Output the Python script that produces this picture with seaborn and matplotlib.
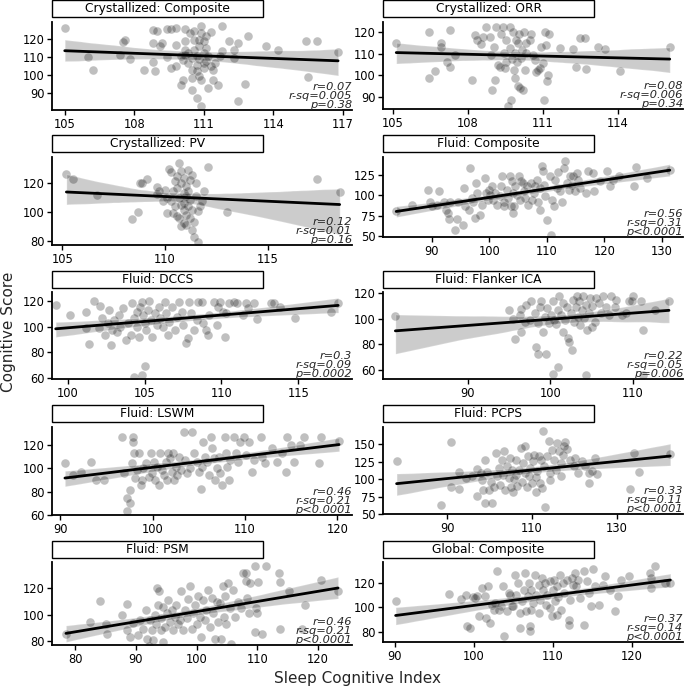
import matplotlib
matplotlib.use("Agg")
import matplotlib.pyplot as plt
import seaborn as sns
import pandas as pd
from matplotlib.patches import Rectangle
from matplotlib.collections import PolyCollection

sns.set_style("ticks")
plt.rcParams['font.family'] = ['DejaVu Sans']

titles = ["Crystallized: Composite", "Crystallized: ORR", "Crystallized: PV",
          "Fluid: Composite", "Fluid: DCCS", "Fluid: Flanker ICA",
          "Fluid: LSWM", "Fluid: PCPS", "Fluid: PSM", "Global: Composite"]

r_vals = ["0.07", "0.08", "0.12", "0.56", "0.3", "0.22", "0.46", "0.33", "0.46", "0.37"]
rsq_vals = ["0.005", "0.006", "0.01", "0.31", "0.09", "0.05", "0.21", "0.11", "0.21", "0.14"]
p_vals = ["=0.38", "=0.34", "=0.16", "<0.0001", "=0.0002", "=0.006", "<0.0001", "<0.0001", "<0.0001", "<0.0001"]

x_ticks = [[105, 108, 111, 114, 117], [105, 108, 111, 114], [105, 110, 115],
           [90, 100, 110, 120, 130], [100, 105, 110, 115], [90, 100, 110],
           [90, 100, 110, 120], [90, 110, 130], [80, 90, 100, 110, 120], [90, 100, 110, 120]]
y_ticks = [[90, 100, 110, 120], [90, 100, 110, 120], [80, 100, 120],
           [50, 75, 100, 125], [60, 80, 100, 120], [60, 80, 100, 120],
           [60, 80, 100, 120], [50, 75, 100, 125, 150], [80, 100, 120], [80, 100, 120]]

cryst_comp = [(105.0,125.9),(106.0,110.0),(106.2,103.0),(107.4,111.3),(107.5,118.1),(107.6,119.3),
    (107.8,108.9),(108.4,103.0),(108.8,107.0),(108.8,124.8),(108.9,102.0),(108.8,117.8),(109.0,124.3),
    (109.2,117.8),(109.1,116.0),(109.4,125.6),(109.6,125.6),(109.8,125.9),(109.4,110.0),(109.6,103.9),
    (109.8,105.2),(109.8,116.9),(110.1,97.4),(110.0,94.6),(110.2,125.6),(110.2,118.7),(110.3,112.2),
    (110.3,106.7),(110.4,123.3),(110.5,98.3),(110.5,91.9),(110.6,124.3),(110.6,119.6),(110.6,114.1),
    (110.7,110.4),(110.7,105.7),(110.7,87.2),(110.8,116.0),(110.8,108.9),(110.9,127.0),(110.9,123.3),
    (110.9,97.4),(110.9,82.6),(111.0,112.2),(111.0,103.9),(111.0,118.7),(111.1,107.6),(111.1,115.0),
    (111.2,92.8),(111.2,110.4),(111.3,123.9),(111.4,103.0),(111.4,97.4),(111.5,106.7),(111.6,94.6),
    (111.7,110.7),(111.8,113.1),(111.8,127.0),(112.1,118.7),(112.3,113.7),(112.3,109.4),(112.5,117.8),
    (112.5,85.4),(112.8,95.0),(112.9,121.9),(113.7,116.0),(114.2,114.1),(115.4,118.7),(115.5,98.9),
    (115.9,118.7),(116.8,112.6),(110.2,111.3),(110.5,103.0),(110.8,119.6),(110.7,102.0),(110.0,110.4),
    (110.1,108.5),(110.5,109.4),(111.1,121.5),(111.3,104.8),(111.0,106.7),(110.8,99.3),(110.2,114.1)]

cryst_orr = [(105.13,115.1),(106.44,120.0),(106.44,99.0),(106.67,102.0),(106.93,115.1),(106.93,113.2),
    (107.16,106.1),(107.27,104.0),(107.27,121.1),(107.47,109.2),(108.17,97.9),(108.27,118.5),(108.35,116.2),
    (108.53,114.4),(108.6,117.7),(108.73,122.3),(108.87,117.7),(108.93,109.3),(108.97,93.4),(109.03,113.2),
    (109.07,97.9),(109.13,122.3),(109.2,104.8),(109.27,104.0),(109.33,119.2),(109.4,122.3),(109.44,110.1),
    (109.47,103.3),(109.51,106.3),(109.53,116.2),(109.6,85.8),(109.67,122.3),(109.69,112.4),(109.73,88.8),
    (109.77,107.4),(109.8,120.0),(109.83,102.5),(109.87,98.7),(109.89,110.1),(109.93,116.2),(109.96,106.3),
    (110.0,114.7),(110.0,94.9),(110.04,119.2),(110.07,94.1),(110.13,107.9),(110.17,111.6),(110.2,93.1),
    (110.23,120.0),(110.27,102.5),(110.31,114.7),(110.33,110.1),(110.47,116.2),(110.53,119.2),(110.6,109.3),
    (110.67,107.1),(110.73,101.7),(110.8,102.5),(110.87,103.3),(110.93,113.2),(111.0,105.5),(111.03,88.8),
    (111.07,120.0),(111.13,113.9),(111.16,97.2),(111.2,100.2),(111.24,119.2),(111.67,112.4),(112.2,112.0),
    (112.33,104.0),(112.47,117.4),(112.67,117.0),(112.71,103.0),(113.2,113.2),(113.47,112.0),(114.07,102.0),
    (116.07,113.2)]

cryst_pv = [(105.2,126.2),(105.5,122.8),(106.7,111.9),(108.4,95.1),(108.7,100.0),(108.8,120.0),(108.9,120.0),
    (109.1,122.8),(109.6,117.2),(109.7,114.2),(109.6,112.6),(109.9,107.3),(110.0,114.9),(110.1,99.3),
    (110.1,109.6),(110.2,129.7),(110.3,107.3),(110.3,127.4),(110.4,114.2),(110.4,99.3),(110.5,121.2),
    (110.5,103.8),(110.6,124.6),(110.6,116.5),(110.7,133.9),(110.7,109.6),(110.7,95.8),(110.8,128.1),
    (110.8,90.0),(110.8,120.0),(110.9,113.1),(110.9,101.6),(110.9,106.1),(110.9,123.5),(110.9,92.3),
    (111.0,117.7),(111.0,110.8),(111.0,98.1),(111.1,129.2),(111.1,103.8),(111.1,114.2),(111.2,122.3),
    (111.2,108.5),(111.3,101.6),(111.3,125.8),(111.3,87.7),(111.4,93.4),(111.4,83.0),(111.5,120.0),
    (111.5,110.8),(111.6,79.6),(111.6,100.4),(111.7,103.8),(111.8,107.3),(111.9,114.7),(112.1,131.1),
    (113.0,100.0),(117.4,122.8),(118.5,113.8),(110.6,97.0),(111.0,91.0),(110.8,105.0),(111.2,96.0)]

fluid_comp = [(83.8,81.3),(86.5,88.3),(89.4,106.9),(89.6,91.2),(90.0,86.3),(91.2,104.8),(90.9,88.3),
    (92.1,92.4),(92.5,82.1),(92.8,78.0),(92.9,70.6),(93.2,92.4),(94.1,57.4),(94.3,70.6),(94.6,92.4),
    (95.4,63.6),(95.6,108.9),(95.8,87.1),(96.4,82.1),(96.6,133.7),(97.0,96.6),(97.2,92.4),(97.5,71.8),
    (97.7,115.1),(97.9,102.8),(98.4,76.0),(98.7,88.3),(99.3,121.3),(99.4,102.8),(99.7,93.7),(99.9,106.9),
    (100.1,100.7),(100.4,111.0),(100.7,94.5),(101.0,102.8),(101.3,88.3),(101.9,98.6),(102.0,111.0),
    (102.2,123.4),(102.5,92.4),(102.6,86.3),(103.0,106.9),(103.3,96.6),(103.6,123.4),(103.7,86.3),
    (103.9,117.2),(104.1,78.0),(104.2,102.8),(104.3,86.3),(104.5,111.0),(104.8,100.7),(105.1,123.4),
    (105.4,94.5),(105.5,117.2),(105.8,115.1),(106.0,104.8),(106.2,96.6),(106.5,111.0),(106.8,88.3),
    (107.2,115.1),(107.4,94.5),(107.7,102.8),(108.0,111.8),(108.3,119.2),(108.4,92.4),(108.8,108.9),
    (108.8,82.1),(109.1,135.7),(109.4,129.5),(109.5,113.1),(109.7,98.6),(110.0,69.8),(110.5,123.4),
    (110.9,94.5),(110.8,51.0),(111.2,86.3),(111.4,119.2),(111.7,108.9),(112.0,128.3),(112.3,104.8),
    (112.6,92.4),(113.0,133.7),(113.2,141.9),(113.5,115.1),(113.8,106.9),(114.1,123.4),(114.3,113.1),
    (114.6,123.4),(114.9,104.8),(115.2,127.5),(115.5,119.2),(115.8,108.9),(116.9,102.8),(117.2,129.5),
    (118.0,127.5),(118.2,104.8),(119.3,117.2),(120.4,129.5),(121.0,111.0),(121.6,119.2),(122.5,123.4),
    (125.1,111.8),(125.5,134.9),(127.4,121.3),(131.4,131.6)]

fluid_dccs = [(99.2,116.9),(100.1,109.0),(101.2,111.7),(101.2,98.6),(101.4,86.3),(101.7,120.0),(102.0,98.6),
    (102.1,116.1),(102.2,106.4),(102.4,93.4),(102.6,102.5),(102.7,113.0),(102.8,85.6),(102.9,97.3),
    (103.0,105.1),(103.2,96.0),(103.3,109.0),(103.4,99.9),(103.6,114.3),(103.8,89.5),(103.9,102.5),
    (104.1,93.4),(104.2,118.2),(104.3,106.4),(104.5,111.7),(104.5,99.9),(104.6,92.1),(104.7,115.6),
    (104.8,119.5),(104.8,62.1),(104.3,60.8),(105.0,69.1),(104.9,109.0),(105.0,102.5),(105.1,97.3),
    (105.2,113.0),(105.3,120.0),(105.4,105.1),(105.5,92.1),(105.7,110.3),(105.8,101.2),(105.9,115.6),
    (106.0,106.4),(106.2,99.9),(106.3,119.5),(106.4,110.3),(106.5,93.4),(106.6,103.8),(106.8,115.6),
    (107.0,97.3),(107.1,107.7),(107.2,119.5),(107.4,111.7),(107.5,101.2),(107.7,86.9),(107.8,90.8),
    (107.9,119.5),(108.0,110.3),(108.2,97.3),(108.4,105.1),(108.5,119.5),(108.7,119.5),(108.8,102.5),
    (109.0,97.3),(109.1,93.4),(109.2,109.0),(109.5,119.5),(109.7,101.2),(109.8,115.6),(109.9,119.5),
    (110.1,111.7),(110.2,91.6),(110.3,110.3),(110.5,118.2),(110.8,119.5),(111.0,118.2),(111.4,109.0),
    (111.6,118.2),(111.7,114.3),(112.1,118.2),(112.3,105.7),(113.2,118.2),(113.4,118.2),(113.8,115.6),
    (114.8,106.4),(117.1,111.7),(117.6,118.7)]

fluid_flanker = [(81.2,102.2),(95.0,106.9),(95.5,99.6),(95.7,83.8),(96.3,103.0),(96.5,107.4),(96.5,89.9),
    (96.9,97.7),(97.1,110.8),(97.5,99.0),(97.7,113.5),(98.1,104.8),(98.3,78.1),(98.5,72.8),(98.5,96.4),
    (98.7,109.5),(98.9,113.5),(99.1,89.9),(99.3,101.7),(99.5,72.3),(99.6,108.2),(99.8,96.4),(100.1,103.0),
    (100.3,57.1),(100.9,62.4),(100.3,113.5),(100.5,99.0),(100.7,96.1),(100.9,106.9),(101.1,117.4),
    (101.3,103.0),(101.5,89.9),(101.6,112.1),(101.8,99.0),(102.0,109.5),(102.2,84.6),(102.3,82.0),
    (102.5,104.3),(102.7,114.8),(102.6,75.5),(102.9,97.7),(103.1,109.5),(103.2,117.4),(103.3,101.7),
    (103.5,113.5),(103.6,95.1),(103.9,106.9),(104.0,117.4),(104.1,100.4),(104.3,110.8),(104.3,55.8),
    (104.5,91.2),(104.7,104.3),(104.8,116.1),(105.0,93.8),(105.1,110.0),(105.4,97.7),(105.6,116.1),
    (105.9,112.1),(106.2,104.3),(106.4,117.4),(106.8,109.5),(107.1,103.0),(107.4,117.4),(107.8,109.5),
    (108.0,114.8),(108.7,103.0),(109.2,104.3),(109.5,113.5),(109.9,113.5),(110.0,117.4),(111.0,113.5),
    (111.2,91.2),(111.2,55.8),(112.7,106.4),(114.4,113.5)]

fluid_lswm = [(90.5,104.9),(91.4,94.3),(92.2,97.1),(93.3,105.7),(93.9,90.0),(94.7,90.0),(96.7,127.1),
    (96.9,95.7),(97.2,63.1),(97.2,74.3),(97.5,70.0),(97.6,81.4),(97.8,104.3),(97.9,127.1),(97.9,122.9),
    (98.0,112.9),(98.1,91.4),(98.3,98.6),(98.5,112.9),(98.7,85.7),(98.9,90.0),(99.0,100.0),(99.3,104.9),
    (99.6,92.9),(99.8,112.9),(99.9,95.7),(100.1,105.7),(100.3,90.0),(100.5,101.4),(100.7,85.7),
    (100.8,112.9),(101.0,98.6),(101.2,94.3),(101.4,105.7),(101.6,90.0),(101.7,112.9),(101.9,108.6),
    (102.1,97.1),(102.2,112.9),(102.3,90.0),(102.5,101.4),(102.6,94.3),(103.4,131.4),(104.3,131.4),
    (102.9,110.0),(103.1,98.6),(103.5,107.1),(103.7,95.7),(104.1,100.0),(104.5,112.9),(104.8,105.7),
    (105.0,97.1),(105.2,82.0),(105.4,101.4),(105.5,122.9),(105.7,110.0),(105.9,105.7),(106.1,94.3),
    (106.3,127.1),(106.4,117.1),(106.6,108.6),(106.8,90.0),(107.0,100.0),(107.2,110.0),(107.3,95.7),
    (107.5,85.7),(107.8,127.1),(107.9,112.9),(108.1,101.4),(108.3,90.0),(108.4,107.1),(108.8,127.1),
    (109.0,112.9),(109.2,105.7),(109.5,122.9),(109.9,127.1),(110.1,111.4),(110.4,122.9),(110.8,97.1),
    (111.0,107.1),(111.7,127.1),(111.9,110.0),(112.2,104.9),(112.9,117.1),(113.5,105.7),(114.0,112.9),
    (114.4,97.1),(114.6,127.1),(115.0,120.0),(115.3,105.7),(116.0,120.0),(116.4,127.1),(118.0,104.9),
    (118.2,127.1),(120.2,123.7)]

fluid_pcps = [(78.1,126.1),(88.6,62.9),(90.8,152.4),(90.9,89.2),(92.9,109.3),(92.9,85.9),(94.4,101.2),
    (95.9,104.5),(97.1,75.8),(97.1,114.1),(97.9,108.4),(98.3,98.8),(98.5,84.4),(98.8,127.5),(99.0,66.3),
    (99.4,109.3),(99.8,84.4),(100.2,96.4),(100.6,65.3),(101.0,89.2),(101.4,137.1),(101.8,103.6),
    (102.2,115.6),(102.5,91.6),(102.9,127.5),(103.2,106.0),(103.3,139.5),(103.7,84.4),(104.1,117.9),
    (104.5,101.2),(104.7,129.9),(105.1,89.2),(105.3,113.2),(105.5,82.1),(105.7,99.7),(106.1,127.5),
    (106.3,106.0),(106.5,90.2),(106.9,113.2),(107.3,144.3),(107.6,96.4),(107.9,122.7),(108.2,108.4),
    (108.4,146.7),(108.8,89.2),(109.1,132.3),(109.2,103.6),(109.6,115.6),(110.0,94.0),(110.2,125.1),
    (110.4,134.7),(110.8,102.6),(111.0,82.1),(111.2,110.8),(111.6,132.3),(111.8,94.0),(112.0,127.5),
    (112.4,86.8),(112.6,168.2),(112.9,117.9),(113.1,60.5),(113.5,132.3),(113.9,153.8),(114.2,108.4),
    (114.3,98.8),(114.7,141.9),(115.1,127.5),(115.5,113.2),(115.9,151.4),(116.3,139.5),(116.7,103.6),
    (116.8,122.7),(117.3,134.7),(117.6,146.7),(117.8,152.4),(118.2,142.8),(119.0,127.5),(119.8,117.9),
    (120.2,129.9),(120.9,108.4),(121.8,125.1),(122.5,117.9),(123.3,108.4),(124.1,110.8),(124.9,129.9),
    (125.3,107.4),(123.3,94.0),(133.9,137.1),(135.1,109.3),(133.1,85.9),(142.5,135.6)]

fluid_psm = [(78.5,85.1),(82.5,94.5),(84.1,110.3),(85.1,92.7),(85.2,85.6),(87.7,99.6),(88.5,108.0),
    (88.5,88.2),(89.0,83.1),(89.5,93.8),(90.3,84.3),(90.7,95.8),(91.2,89.4),(91.7,103.4),(91.8,81.8),
    (92.1,75.9),(92.3,95.8),(92.6,88.2),(92.9,80.5),(93.2,99.6),(93.3,92.7),(93.5,120.0),(93.7,107.3),
    (93.8,117.5),(94.1,88.2),(94.2,97.1),(94.4,106.0),(94.5,79.2),(94.8,90.7),(95.1,100.9),(95.3,111.1),
    (95.6,94.5),(95.9,103.4),(96.2,88.2),(96.4,98.3),(96.7,107.3),(97.0,93.2),(97.3,95.8),(97.5,117.5),
    (97.8,88.2),(98.1,103.4),(98.4,97.1),(98.6,111.6),(98.9,121.3),(99.2,89.4),(99.5,100.9),(99.7,107.3),
    (100.0,93.2),(100.3,113.6),(100.5,98.3),(100.8,83.1),(101.1,111.1),(101.4,95.8),(101.6,103.4),
    (101.9,118.7),(102.2,90.7),(102.5,112.4),(102.7,100.9),(103.0,81.8),(103.3,109.8),(103.6,94.5),
    (103.8,108.5),(104.1,81.8),(104.4,121.3),(104.5,98.3),(104.7,113.6),(104.9,93.2),(105.2,123.8),
    (105.5,104.7),(105.6,78.0),(106.0,118.2),(106.3,98.3),(106.8,109.8),(107.4,104.7),(107.7,131.5),
    (108.2,131.5),(108.2,125.1),(108.3,112.4),(108.7,100.9),(108.8,123.8),(109.6,86.9),(109.6,136.6),
    (109.8,104.7),(109.9,100.9),(110.1,124.3),(110.7,85.6),(111.5,136.6),(113.6,131.5),(113.7,124.3),
    (113.8,89.4),(115.3,117.5),(117.3,89.4),(117.8,107.3),(120.5,125.9),(123.3,118.0)]

global_comp = [(90.1,105.0),(96.8,111.3),(98.4,106.9),(99.0,110.5),(99.1,84.6),(99.5,83.3),(99.9,108.6),
    (100.1,107.8),(100.4,109.7),(100.7,92.8),(101.0,115.9),(101.4,109.7),(101.6,91.4),(101.8,117.3),
    (102.0,87.3),(102.3,102.3),(102.5,98.2),(102.7,103.7),(103.0,129.5),(103.2,98.2),(103.5,101.0),
    (103.7,117.3),(103.8,76.5),(103.7,69.7),(104.2,96.9),(104.4,111.8),(104.6,110.5),(104.8,101.5),
    (105.0,101.0),(105.2,126.8),(105.4,110.5),(105.6,120.0),(105.8,95.5),(105.8,83.3),(106.1,105.0),
    (106.3,114.6),(106.5,128.2),(106.6,96.9),(106.9,109.1),(107.0,120.0),(107.1,84.6),(107.1,80.5),
    (107.2,98.2),(107.3,114.6),(107.5,103.7),(107.7,126.8),(107.9,110.5),(108.2,118.6),(108.3,95.5),
    (108.4,106.4),(108.6,124.1),(108.8,114.6),(109.0,120.0),(109.2,102.3),(109.3,110.5),(109.6,121.4),
    (109.7,99.6),(109.9,92.8),(110.0,114.6),(110.1,122.7),(110.3,105.0),(110.5,117.3),(110.6,94.1),
    (110.7,108.6),(110.9,126.8),(111.1,98.2),(111.3,120.0),(111.4,111.8),(111.8,122.7),(112.1,90.1),
    (112.1,86.0),(112.2,106.4),(112.4,124.1),(112.6,118.6),(112.8,128.2),(113.0,117.3),(113.2,122.7),
    (113.4,107.8),(113.9,129.5),(114.0,86.0),(114.3,121.4),(114.6,111.8),(114.9,101.0),(115.1,131.4),
    (115.3,117.3),(115.8,102.3),(116.4,118.6),(116.6,126.0),(117.2,114.6),(117.9,96.9),(118.3,109.1),
    (118.7,122.7),(119.6,126.0),(122.3,128.2),(122.5,124.1),(123.0,133.6),(122.5,115.9),(124.2,120.0),
    (124.9,120.0)]

panels = [cryst_comp, cryst_orr, cryst_pv, fluid_comp, fluid_dccs,
          fluid_flanker, fluid_lswm, fluid_pcps, fluid_psm, global_comp]

# layout (pixel boxes: left, top, right, bottom) and axis limits
boxes = [(52, 22, 352, 110), (383, 22, 683, 109), (52, 157, 352, 245), (383, 157, 683, 237),
         (52, 292, 352, 379), (383, 292, 683, 379), (52, 427, 352, 515), (383, 427, 683, 514),
         (52, 562, 352, 645), (383, 562, 683, 642)]
strip_tops = [0, 0, 135, 135, 271, 271, 405, 405, 541, 541]
xlims = [(104.45, 117.4), (104.6, 116.6), (104.5, 119.1), (81.5, 133.7), (98.96, 118.5),
         (79.7, 116.1), (89.1, 121.6), (74.9, 145.5), (76.2, 125.6), (88.5, 126.5)]
ylims = [(80.6, 129.4), (84.5, 124.6), (77.2, 137.9), (48.8, 147.1), (59.2, 127.0),
         (53.0, 120.8), (60.0, 135.4), (50.0, 174.3), (77.0, 139.6), (71.8, 137.1)]

W, H = 685, 691
fig = plt.figure(figsize=(W / 100, H / 100), dpi=100)

for i, pts in enumerate(panels):
    l, t, r, b = boxes[i]
    ax = fig.add_axes([l / W, 1 - b / H, (r - l) / W, (b - t) / H])
    df = pd.DataFrame(pts, columns=["sci", "score"])
    sns.regplot(data=df, x="sci", y="score", ax=ax, color="black", ci=95, seed=1,
                scatter_kws=dict(s=38, alpha=0.25, linewidths=0),
                line_kws=dict(lw=2.0, color="black"))
    for coll in ax.collections:
        if isinstance(coll, PolyCollection):
            coll.set_alpha(0.2)
    ax.set_xlim(*xlims[i])
    ax.set_ylim(*ylims[i])
    ax.set_xticks(x_ticks[i])
    ax.set_yticks(y_ticks[i])
    ax.set_xlabel("")
    ax.set_ylabel("")
    sns.despine(ax=ax)
    for s in ["left", "bottom"]:
        ax.spines[s].set_linewidth(1.3)
        ax.spines[s].set_color("black")
    ax.tick_params(labelsize=8.3, length=3.5, width=1, color="black", pad=2, labelcolor="black")
    ax.text(1.0, 0.0, f"r={r_vals[i]}\nr-sq={rsq_vals[i]}\np{p_vals[i]}",
            transform=ax.transAxes, ha="right", va="bottom", style="italic",
            fontsize=8.2, linespacing=0.85, multialignment="right")
    # strip
    st = strip_tops[i]
    sl, sr = l, l + 211
    fig.add_artist(Rectangle((sl / W, 1 - (st + 17) / H), (sr - sl) / W, 17 / H,
                             transform=fig.transFigure, facecolor="white",
                             edgecolor="black", lw=1.0))
    fig.text((sl + sr) / 2 / W, 1 - (st + 8.7) / H, titles[i], ha="center", va="center",
             fontsize=8.8, color="black")

fig.text(357 / W, 1 - 679 / H, "Sleep Cognitive Index", ha="center", va="center", fontsize=11)
fig.text(9 / W, 1 - 332 / H, "Cognitive Score", ha="center", va="center", rotation=90, fontsize=11)

fig.savefig("out.png", dpi=100)
